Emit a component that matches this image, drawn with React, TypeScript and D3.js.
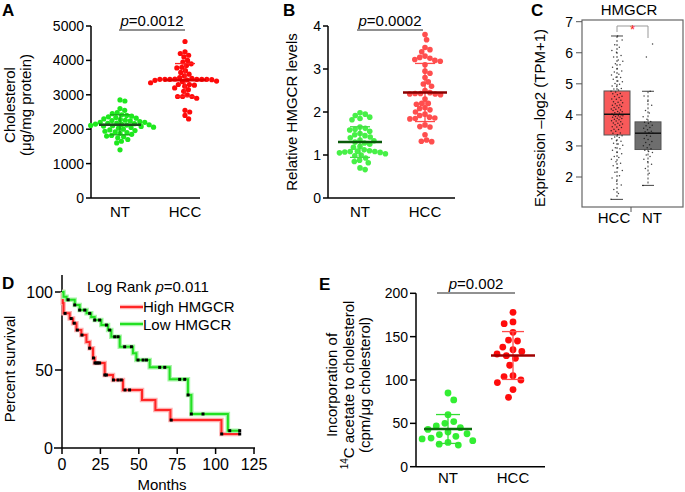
import React from "react";
import * as d3 from "d3";

const FONT = "'Liberation Sans', Arial, Helvetica, sans-serif";

// ---------- Panel A : cholesterol ----------
const groupsAB = ["NT", "HCC"];
const aTicks = [0, 1000, 2000, 3000, 4000, 5000];
const pA = "0.0012";
const cholNT = [
  2850, 2820, 2600, 2550, 2480, 2450, 2420, 2400, 2380, 2360,
  2340, 2320, 2300, 2280, 2260, 2250, 2240, 2220, 2200, 2200,
  2180, 2170, 2160, 2150, 2140, 2130, 2120, 2110, 2100, 2090,
  2080, 2060, 2050, 2030, 2000, 1980, 1960, 1940, 1920, 1900,
  1880, 1850, 1820, 1800, 1780, 1750, 1700, 1650, 1600, 1400,
];
const cholHCC = [
  4550, 4250, 4200, 4150, 4100, 4000, 3950, 3900, 3850, 3800,
  3780, 3700, 3650, 3600, 3550, 3500, 3480, 3460, 3450, 3450,
  3450, 3450, 3450, 3450, 3440, 3430, 3420, 3400, 3380, 3350,
  3300, 3300, 3280, 3250, 3200, 3150, 3100, 3000, 2950, 2950,
  2950, 2900, 2550, 2500, 2400, 2300,
];

// ---------- Panel B : relative HMGCR ----------
const bTicks = [0, 1, 2, 3, 4];
const pB = "0.0002";
const hmgNT = [
  1.98, 1.95, 1.92, 1.88, 1.85, 1.82, 1.65, 1.62, 1.6, 1.58,
  1.55, 1.5, 1.47, 1.45, 1.42, 1.4, 1.35, 1.33, 1.3, 1.28,
  1.25, 1.2, 1.18, 1.12, 1.1, 1.09, 1.08, 1.08, 1.07, 1.06,
  1.05, 1.03, 1.0, 0.98, 0.93, 0.88, 0.85, 0.82, 0.7, 0.66,
];
const hmgHCC = [
  3.8, 3.68, 3.5, 3.45, 3.4, 3.3, 3.27, 3.25, 3.22, 3.2,
  3.18, 3.1, 2.95, 2.9, 2.8, 2.7, 2.65, 2.6, 2.5, 2.45,
  2.43, 2.43, 2.42, 2.42, 2.4, 2.3, 2.2, 2.2, 2.18, 2.1,
  2.08, 2.05, 2.0, 1.95, 1.92, 1.88, 1.86, 1.85, 1.84, 1.7,
  1.66, 1.65, 1.47, 1.35, 1.32, 1.31,
];

// ---------- Panel C : GEPIA box plot ----------
const cCats = ["HCC", "NT"];
const cTicks = [2, 3, 4, 5, 6, 7];
const tpmHCC = [
  1.28, 1.47, 1.6, 1.74, 1.86, 1.97, 2.04, 2.15, 2.21, 2.3, 2.36, 2.44, 2.49, 2.57, 2.63,
  2.66, 2.75, 2.79, 2.86, 2.91, 2.94, 3.02, 3.06, 3.09, 3.15, 3.17, 3.23, 3.27, 3.29, 3.33,
  3.36, 3.41, 3.42, 3.47, 3.49, 3.53, 3.54, 3.59, 3.61, 3.62, 3.67, 3.68, 3.71, 3.73, 3.74,
  3.78, 3.8, 3.81, 3.84, 3.86, 3.88, 3.89, 3.92, 3.93, 3.95, 3.97, 3.97, 3.99, 4.0, 4.01,
  4.03, 4.06, 4.07, 4.1, 4.11, 4.14, 4.16, 4.18, 4.19, 4.23, 4.24, 4.27, 4.29, 4.31, 4.32,
  4.36, 4.39, 4.41, 4.42, 4.47, 4.5, 4.51, 4.56, 4.59, 4.6, 4.65, 4.68, 4.69, 4.74, 4.76,
  4.8, 4.83, 4.85, 4.91, 4.93, 4.99, 5.01, 5.07, 5.09, 5.15, 5.2, 5.21, 5.28, 5.31, 5.38,
  5.41, 5.49, 5.53, 5.61, 5.65, 5.73, 5.77, 5.86, 5.91, 6.02, 6.07, 6.18, 6.26, 6.41, 6.54,
];
const tpmNT = [
  1.73, 2.12, 2.27, 2.41, 2.49, 2.57, 2.66, 2.71, 2.79, 2.82, 2.86, 2.91, 2.94, 3.01, 3.04,
  3.11, 3.14, 3.21, 3.24, 3.31, 3.34, 3.41, 3.43, 3.46, 3.47, 3.52, 3.57, 3.59, 3.65, 3.67,
  3.73, 3.76, 3.79, 3.86, 3.94, 4.06, 4.14, 4.31, 4.44, 4.61, 4.76, 5.86, 6.28,
];

// ---------- Panel D : Kaplan-Meier ----------
const dXTicks = [0, 25, 50, 75, 100, 125];
const dYTicks = [0, 50, 100];
const pD = "0.011";
const highTimes = [0, 0.5, 1, 5, 7.2, 9.4, 12.6, 15.9, 18, 20.2, 21.3, 27.8, 33.2, 39.7, 52.1, 60.8, 70.6, 103.8];
const highSurv = [100, 93, 86.3, 83, 80, 75.6, 72.4, 68, 64, 57.7, 54.5, 46.8, 43.6, 37.2, 30.8, 24.4, 17.9, 9];
const highEnd = 115.7;
const highCensor = [2, 6, 8, 10, 13, 18, 20.5, 21.5, 22.4, 23.4, 24.5, 27.9, 28.9, 33.5, 36.5, 38.6, 41, 44, 71.1, 104, 115.7];
const lowTimes = [0, 1, 3, 8.3, 11.5, 16, 19, 21.3, 25.6, 30, 32.1, 37.6, 46.2, 48.4, 57.1, 70.1, 82, 84.2, 108];
const lowSurv = [100, 97, 95, 91.7, 88.4, 86.3, 84, 82, 78.8, 75.6, 71.3, 64.9, 60.7, 56.4, 51.7, 44, 34, 21.8, 11.1];
const lowEnd = 115.7;
const lowCensor = [4, 8.3, 11.5, 14.8, 18, 21.3, 24.5, 28.9, 31, 34.3, 36.5, 40.8, 45.2, 49.5, 52.8, 55, 63.6, 66.9, 76.6, 79.9, 82.1, 84.2, 91.8, 109.2, 115.7];

// ---------- Panel E : 14C acetate ----------
const eTicks = [0, 50, 100, 150, 200];
const pE = "0.002";
const acetNT = [85, 77, 60, 52, 50, 47, 45, 43, 40, 38, 37, 35, 33, 32, 30, 28, 26, 25];
const acetHCC = [178, 167, 165, 155, 146, 145, 138, 135, 133, 130, 128, 125, 117, 105, 104, 100, 97, 89, 80];

// ---------- helpers ----------
function swarm(vals: number[], y: (v: number) => number, d: number): number[] {
  const idx = vals.map((_, i) => i).sort((a, b) => y(vals[a]) - y(vals[b]));
  const out = new Array(vals.length).fill(0);
  const placed: { x: number; y: number }[] = [];
  let flip = 1;
  for (const i of idx) {
    const py = y(vals[i]);
    const ivs: [number, number][] = [];
    for (const p of placed) {
      const dy = Math.abs(p.y - py);
      if (dy < d) {
        const dx = Math.sqrt(d * d - dy * dy);
        ivs.push([p.x - dx, p.x + dx]);
      }
    }
    const cands = [0];
    ivs.forEach(([a, b]) => cands.push(a, b));
    cands.sort((a, b) => Math.abs(a) - Math.abs(b) || (a - b) * flip);
    flip = -flip;
    let x = 0;
    for (const c of cands) {
      if (ivs.every(([a, b]) => c <= a + 1e-6 || c >= b - 1e-6)) {
        x = c;
        break;
      }
    }
    out[i] = x;
    placed.push({ x, y: py });
  }
  return out;
}

function YAxis({ x, scale, ticks, y0, y1, tickLen = 5, fontSize = 14, gap = 2 }: any) {
  return (
    <g>
      <line x1={x} x2={x} y1={y0} y2={y1} stroke="#000" strokeWidth={1.5} />
      {ticks.map((t: number) => (
        <g key={t}>
          <line x1={x - tickLen} x2={x} y1={scale(t)} y2={scale(t)} stroke="#000" strokeWidth={1.5} />
          <text x={x - tickLen - gap} y={scale(t)} dy="0.36em" textAnchor="end" fontSize={fontSize}>
            {t}
          </text>
        </g>
      ))}
    </g>
  );
}

function DotGroup({ values, cx, y, r, d, fill, meanColor, barColor, meanHalf, capHalf, opacity = 1 }: any) {
  const offs = swarm(values, y, d);
  const m = d3.mean(values) as number;
  const s = d3.deviation(values) as number;
  return (
    <g>
      {values.map((v: number, i: number) => (
        <circle key={i} cx={cx + offs[i]} cy={y(v)} r={r} fill={fill} fillOpacity={opacity} />
      ))}
      <line x1={cx} x2={cx} y1={y(m + s)} y2={y(m - s)} stroke={barColor} strokeWidth={1.3} />
      <line x1={cx - capHalf} x2={cx + capHalf} y1={y(m + s)} y2={y(m + s)} stroke={barColor} strokeWidth={1.3} />
      <line x1={cx - capHalf} x2={cx + capHalf} y1={y(m - s)} y2={y(m - s)} stroke={barColor} strokeWidth={1.3} />
      <line x1={cx - meanHalf} x2={cx + meanHalf} y1={y(m)} y2={y(m)} stroke={meanColor} strokeWidth={2.6} />
    </g>
  );
}

function PBracket({ x1, x2, y, p }: any) {
  return (
    <g>
      <text x={(x1 + x2) / 2} y={y - 4} textAnchor="middle" fontSize={15}>
        <tspan fontStyle="italic">p</tspan>={p}
      </text>
      <line x1={x1} x2={x2} y1={y} y2={y} stroke="#222" strokeWidth={1} />
    </g>
  );
}

function VLabel({ x, y, lines, fontSize = 15, lh = 16 }: any) {
  return (
    <g transform={`translate(${x},${y}) rotate(-90)`}>
      {lines.map((l: any, i: number) => (
        <text key={i} x={0} y={i * lh} textAnchor="middle" fontSize={fontSize}>
          {l}
        </text>
      ))}
    </g>
  );
}

function Letter({ x, y, t }: any) {
  return (
    <text x={x} y={y} fontSize={17} fontWeight="bold">
      {t}
    </text>
  );
}

// ---------- panels ----------
function PanelA() {
  const y = d3.scaleLinear().domain([0, 5000]).range([198, 26]);
  const x = d3.scalePoint().domain(groupsAB).range([120, 185]);
  return (
    <g>
      <Letter x={2} y={16} t="A" />
      <VLabel x={15} y={105} lines={["Cholesterol", "(μg/mg protein)"]} />
      <YAxis x={91} scale={y} ticks={aTicks} y0={26} y1={198} />
      <line x1={91} x2={200} y1={198} y2={198} stroke="#000" strokeWidth={1.5} />
      <DotGroup values={cholNT} cx={x("NT")} y={y} r={2.6} d={5.0} fill="#1ee81e"
        meanColor="#1d4d1d" barColor="#1aa81a" meanHalf={21} capHalf={10} />
      <DotGroup values={cholHCC} cx={x("HCC")} y={y} r={2.6} d={5.0} fill="#ff0a0a"
        meanColor="#e00000" barColor="#ff2020" meanHalf={21} capHalf={10} />
      {groupsAB.map((g) => (
        <text key={g} x={x(g)} y={217} textAnchor="middle" fontSize={15}>{g}</text>
      ))}
      <PBracket x1={119} x2={185} y={30} p={pA} />
    </g>
  );
}

function PanelB() {
  const y = d3.scaleLinear().domain([0, 4]).range([198, 26]);
  const x = d3.scalePoint().domain(groupsAB).range([360, 425]);
  return (
    <g>
      <Letter x={283} y={16} t="B" />
      <VLabel x={297} y={112} lines={["Relative HMGCR levels"]} />
      <YAxis x={328} scale={y} ticks={bTicks} y0={26} y1={198} />
      <line x1={328} x2={455} y1={198} y2={198} stroke="#000" strokeWidth={1.5} />
      <DotGroup values={hmgNT} cx={x("NT")} y={y} r={2.8} d={5.4} fill="#33ee33" opacity={0.9}
        meanColor="#0a5a0a" barColor="#44dd44" meanHalf={22} capHalf={10} />
      <DotGroup values={hmgHCC} cx={x("HCC")} y={y} r={2.8} d={5.4} fill="#ff3b3b" opacity={0.9}
        meanColor="#8a0000" barColor="#ff4a4a" meanHalf={22} capHalf={10} />
      {groupsAB.map((g) => (
        <text key={g} x={x(g)} y={217} textAnchor="middle" fontSize={15}>{g}</text>
      ))}
      <PBracket x1={357} x2={423} y={30} p={pB} />
    </g>
  );
}

function PanelC() {
  const y = d3.scaleLinear().domain([2, 7]).range([177, 21.7]);
  const x = d3.scalePoint().domain(cCats).range([617, 648]);
  const data: Record<string, number[]> = { HCC: tpmHCC, NT: tpmNT };
  const fills: Record<string, string> = { HCC: "#f85a5a", NT: "#6e6e6e" };
  const jw: Record<string, number> = { HCC: 6, NT: 5 };
  const bw = 26;
  return (
    <g>
      <Letter x={531} y={16} t="C" />
      <text x={629} y={15} textAnchor="middle" fontSize={15}>HMGCR</text>
      <VLabel x={545} y={118} lines={["Expression \u2013log2 (TPM+1)"]} />
      <rect x={582} y={20} width={101} height={187} fill="none" stroke="#666" strokeWidth={1.2} />
      {cTicks.map((t) => (
        <g key={t}>
          <line x1={576} x2={582} y1={y(t)} y2={y(t)} stroke="#555" strokeWidth={1} />
          <text x={573} y={y(t)} dy="0.36em" textAnchor="end" fontSize={14}>{t}</text>
        </g>
      ))}
      {cCats.map((c) => {
        const vals = data[c].slice().sort(d3.ascending);
        const q1 = d3.quantile(vals, 0.25) as number;
        const med = d3.quantile(vals, 0.5) as number;
        const q3 = d3.quantile(vals, 0.75) as number;
        const iqr = q3 - q1;
        const lo = d3.min(vals.filter((v) => v >= q1 - 1.5 * iqr)) as number;
        const hi = d3.max(vals.filter((v) => v <= q3 + 1.5 * iqr)) as number;
        const cx = x(c) as number;
        return (
          <g key={c}>
            <line x1={cx} x2={cx} y1={y(hi)} y2={y(q3)} stroke="#444" strokeDasharray="2,2" />
            <line x1={cx} x2={cx} y1={y(q1)} y2={y(lo)} stroke="#444" strokeDasharray="2,2" />
            <line x1={cx - 6} x2={cx + 6} y1={y(hi)} y2={y(hi)} stroke="#444" />
            <line x1={cx - 6} x2={cx + 6} y1={y(lo)} y2={y(lo)} stroke="#444" />
            <rect x={cx - bw / 2} y={y(q3)} width={bw} height={y(q1) - y(q3)} fill={fills[c]} stroke="#555" strokeWidth={1} />
            <line x1={cx - bw / 2} x2={cx + bw / 2} y1={y(med)} y2={y(med)} stroke="#111" strokeWidth={1.5} />
            {data[c].map((v, i) => (
              <circle key={i} cx={cx + (((i * 0.6180339887) % 1) - 0.5) * 2 * jw[c]} cy={y(v)} r={0.75} fill="#111" fillOpacity={0.8} />
            ))}
          </g>
        );
      })}
      <path d={`M${x("HCC")},32 V26 H${x("NT")} V38`} fill="none" stroke="#999" strokeWidth={1} />
      <text x={632.5} y={34} textAnchor="middle" fontSize={13} fill="#ff2020">*</text>
      <line x1={631} x2={631} y1={207} y2={212} stroke="#555" />
      {cCats.map((c) => (
        <text key={c} x={(x(c) as number) + (c === "HCC" ? -3 : 4)} y={223} textAnchor="middle" fontSize={15}>{c}</text>
      ))}
    </g>
  );
}

function PanelD() {
  const x = d3.scaleLinear().domain([0, 125]).range([62, 254]);
  const y = d3.scaleLinear().domain([0, 100]).range([448, 292]);
  const line = d3
    .line<[number, number]>()
    .x((d) => x(d[0]))
    .y((d) => y(d[1]))
    .curve(d3.curveStepAfter);
  const pts = (t: number[], s: number[], end: number) => {
    const p: [number, number][] = t.map((ti, i) => [ti, s[i]]);
    p.push([end, s[s.length - 1]]);
    return p;
  };
  const survAt = (t: number[], s: number[], at: number) => {
    let v = s[0];
    t.forEach((ti, i) => {
      if (ti <= at) v = s[i];
    });
    return v;
  };
  const series = [
    { t: highTimes, s: highSurv, end: highEnd, c: highCensor, halo: "#ffb0b0", col: "#ff2626" },
    { t: lowTimes, s: lowSurv, end: lowEnd, c: lowCensor, halo: "#a8f5a8", col: "#22e022" },
  ];
  return (
    <g>
      <Letter x={2} y={289} t="D" />
      <VLabel x={15} y={369} lines={["Percent survival"]} />
      <line x1={62} x2={62} y1={275} y2={448} stroke="#000" strokeWidth={1.5} />
      {dYTicks.filter((t) => t > 0).map((t) => (
        <line key={t} x1={55} x2={62} y1={y(t)} y2={y(t)} stroke="#000" strokeWidth={1.5} />
      ))}
      {dYTicks.map((t) => (
        <text key={t} x={53} y={y(t)} dy="0.36em" textAnchor="end" fontSize={16}>{t}</text>
      ))}
      <line x1={54} x2={255} y1={448} y2={448} stroke="#000" strokeWidth={1.5} />
      {dXTicks.map((t) => (
        <g key={t}>
          <line x1={x(t)} x2={x(t)} y1={448} y2={454} stroke="#000" strokeWidth={1.5} />
          <text x={x(t)} y={470} textAnchor="middle" fontSize={16}>{t}</text>
        </g>
      ))}
      <text x={162} y={490} textAnchor="middle" fontSize={15}>Months</text>
      {series.map((sr, k) => (
        <g key={k}>
          <path d={line(pts(sr.t, sr.s, sr.end)) || ""} fill="none" stroke={sr.halo} strokeWidth={4.5} />
          <path d={line(pts(sr.t, sr.s, sr.end)) || ""} fill="none" stroke={sr.col} strokeWidth={2} />
        </g>
      ))}
      {series.map((sr, k) => (
        <g key={"c" + k}>
          {sr.c.map((ct, i) => (
            <rect key={i} x={x(ct) - 1.5} y={y(survAt(sr.t, sr.s, ct)) - 1.5} width={3} height={3} fill="#000" />
          ))}
        </g>
      ))}
      <text x={87} y={292} fontSize={15}>
        Log Rank <tspan fontStyle="italic">p</tspan>={pD}
      </text>
      <line x1={120} x2={143} y1={307} y2={307} stroke="#ffb0b0" strokeWidth={4.5} />
      <line x1={120} x2={143} y1={307} y2={307} stroke="#ff2626" strokeWidth={2} />
      <text x={143} y={312} fontSize={15}>High HMGCR</text>
      <line x1={120} x2={143} y1={324} y2={324} stroke="#a8f5a8" strokeWidth={4.5} />
      <line x1={120} x2={143} y1={324} y2={324} stroke="#22e022" strokeWidth={2} />
      <text x={143} y={330} fontSize={15}>Low HMGCR</text>
    </g>
  );
}

function PanelE() {
  const y = d3.scaleLinear().domain([0, 200]).range([466.7, 293.3]);
  const x = d3.scalePoint().domain(groupsAB).range([448, 513]);
  return (
    <g>
      <Letter x={319} y={290} t="E" />
      <g transform={`translate(0,385) rotate(-90)`}>
        <text x={0} y={337} textAnchor="middle" fontSize={15}>Incorporation of</text>
        <text x={0} y={354} textAnchor="middle" fontSize={15}>
          <tspan fontSize={10} dy={-6}>14</tspan>
          <tspan dy={6}>C acetate to cholesterol</tspan>
        </text>
        <text x={0} y={370} textAnchor="middle" fontSize={15}>(cpm/μg cholesterol)</text>
      </g>
      <YAxis x={416} scale={y} ticks={eTicks} y0={293.3} y1={466.7} tickLen={6} />
      <line x1={416} x2={545} y1={466.7} y2={466.7} stroke="#000" strokeWidth={1.5} />
      <DotGroup values={acetNT} cx={x("NT")} y={y} r={3.4} d={9} fill="#33ee33"
        meanColor="#0b6e0b" barColor="#33dd33" meanHalf={24} capHalf={12} />
      <DotGroup values={acetHCC} cx={x("HCC")} y={y} r={3.4} d={9} fill="#ff0c0c"
        meanColor="#a00000" barColor="#ff4a4a" meanHalf={22} capHalf={11} />
      {groupsAB.map((g) => (
        <text key={g} x={x(g)} y={483} textAnchor="middle" fontSize={15}>{g}</text>
      ))}
      <PBracket x1={437} x2={515} y={293} p={pE} />
    </g>
  );
}

export default function App() {
  return (
    <svg width={685} height={492} style={{ position: "absolute", left: 0, top: 0, background: "#fff" }} fontFamily={FONT}>
      <PanelA />
      <PanelB />
      <PanelC />
      <PanelD />
      <PanelE />
    </svg>
  );
}
